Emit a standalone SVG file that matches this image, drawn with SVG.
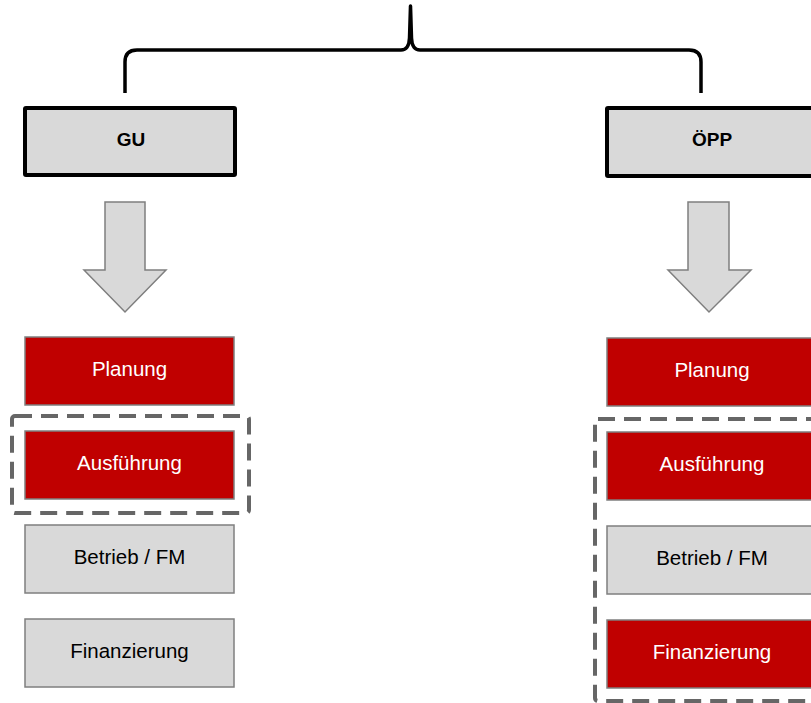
<svg xmlns="http://www.w3.org/2000/svg" width="811" height="703" viewBox="0 0 811 703">
<style>
.hdr{fill:#d9d9d9;stroke:#000;stroke-width:4}
.red{fill:#c00000;stroke:#7f7f7f;stroke-width:1.5}
.gry{fill:#d9d9d9;stroke:#7f7f7f;stroke-width:1.5}
.arr{fill:#d9d9d9;stroke:#7f7f7f;stroke-width:1.5}
.dash{fill:none;stroke:#666;stroke-width:4;stroke-dasharray:17 9}
text{font-family:"Liberation Sans",Arial,sans-serif;font-size:20.5px;text-anchor:middle}
.w{fill:#fff}
.b{fill:#000}
.h{font-weight:bold;font-size:19px;fill:#000}
</style>
<rect width="811" height="703" fill="#fff"/>
<g id="connectors">
<path d="M125,93 L125,62 Q125,50 137,50 L401,50 Q409,50 409.5,38 L410.5,6 L411.5,38 Q412,50 420,50 L689,50 Q701,50 701,62 L701,93" fill="none" stroke="#000" stroke-width="3.5" stroke-linejoin="round"/>
<polygon class="arr" points="105,202 145,202 145,270 166,270 125,312 84,270 105,270"/>
<polygon class="arr" points="688,202 729,202 729,270 751,270 709,312 668,270 688,270"/>
</g>
<g id="gu"><rect class="hdr" x="25" y="108" width="210" height="67" rx="1"/><text class="h" x="131" y="146">GU</text></g>
<g id="oepp"><rect class="hdr" x="607" y="108" width="210" height="68" rx="1"/><text class="h" x="712" y="146">ÖPP</text></g>
<g id="gu-planung"><rect class="red" x="25" y="337" width="209" height="68"/><text class="w" x="129.5" y="376">Planung</text></g>
<g id="gu-ausfuehrung"><rect class="red" x="25" y="431" width="209" height="68"/><text class="w" x="129.5" y="470">Ausführung</text></g>
<g id="gu-betrieb"><rect class="gry" x="25" y="525" width="209" height="68"/><text class="b" x="129.5" y="564">Betrieb / FM</text></g>
<g id="gu-finanzierung"><rect class="gry" x="25" y="619" width="209" height="68"/><text class="b" x="129.5" y="658">Finanzierung</text></g>
<g id="gu-group"><rect class="dash" x="12" y="416" width="237" height="97" rx="3"/></g>
<g id="oepp-planung"><rect class="red" x="607" y="338" width="209" height="68"/><text class="w" x="712" y="377">Planung</text></g>
<g id="oepp-ausfuehrung"><rect class="red" x="607" y="432" width="209" height="68"/><text class="w" x="712" y="471">Ausführung</text></g>
<g id="oepp-betrieb"><rect class="gry" x="607" y="526" width="209" height="68"/><text class="b" x="712" y="565">Betrieb / FM</text></g>
<g id="oepp-finanzierung"><rect class="red" x="607" y="620" width="209" height="68"/><text class="w" x="712" y="659">Finanzierung</text></g>
<g id="oepp-group"><rect class="dash" x="595" y="419" width="240" height="282" rx="3"/></g>
</svg>
